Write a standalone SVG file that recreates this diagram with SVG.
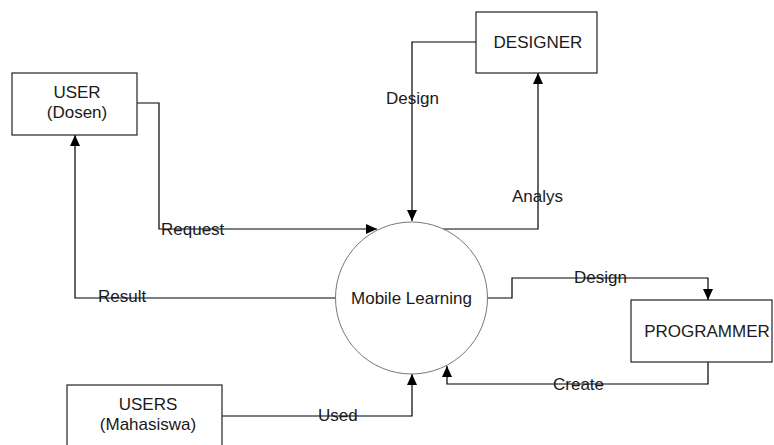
<svg xmlns="http://www.w3.org/2000/svg" width="774" height="445" viewBox="0 0 774 445">
<defs>
<marker id="arr" markerUnits="userSpaceOnUse" markerWidth="12" markerHeight="12" viewBox="0 0 12 12" refX="11" refY="6" orient="auto">
<path d="M0,1 L11,6 L0,11 Z" fill="#000"/>
</marker>
</defs>
<style>
.box{fill:#fff;stroke:#222;stroke-width:1.2}
.proc{fill:#fff;stroke:#777;stroke-width:1}
.t{font-family:"Liberation Sans",Arial,sans-serif;font-size:17px;fill:#1a1a1a;text-anchor:middle}
.lbl{font-family:"Liberation Sans",Arial,sans-serif;font-size:17px;fill:#1a1a1a}
.c{fill:none;stroke:#000;stroke-width:1.2;marker-end:url(#arr)}
</style>
<rect width="774" height="445" fill="#fff"/>
<g id="connectors">
<polyline class="c" points="137,103 159,103 159,229 377,229"/>
<polyline class="c" points="335,298 75,298 75,135"/>
<polyline class="c" points="476,42 412,42 412,221"/>
<polyline class="c" points="443,229 538,229 538,73"/>
<polyline class="c" points="488,298 512,298 512,278 708,278 708,300"/>
<polyline class="c" points="708,362 708,384 447,384 447,366"/>
<polyline class="c" points="222,416 412,416 412,374"/>
</g>
<g id="labels">
<text class="lbl" x="161" y="235">Request</text>
<text class="lbl" x="98" y="302">Result</text>
<text class="lbl" x="386" y="104">Design</text>
<text class="lbl" x="512" y="202">Analys</text>
<text class="lbl" x="574" y="283">Design</text>
<text class="lbl" x="553" y="390">Create</text>
<text class="lbl" x="318" y="421">Used</text>
</g>
<g id="user-dosen">
<rect class="box" x="12" y="73" width="125" height="62"/>
<text class="t" x="77" y="98">USER</text>
<text class="t" x="77" y="118">(Dosen)</text>
</g>
<g id="designer">
<rect class="box" x="476" y="12" width="121" height="61"/>
<text class="t" x="538" y="48">DESIGNER</text>
</g>
<g id="mobile-learning">
<circle class="proc" cx="411.5" cy="298" r="76"/>
<text class="t" x="411.5" y="304">Mobile Learning</text>
</g>
<g id="programmer">
<rect class="box" x="631" y="300" width="141" height="62"/>
<text class="t" x="707" y="337">PROGRAMMER</text>
</g>
<g id="users-mahasiswa">
<rect class="box" x="67" y="385" width="155" height="70"/>
<text class="t" x="148" y="410">USERS</text>
<text class="t" x="148" y="430">(Mahasiswa)</text>
</g>
</svg>
